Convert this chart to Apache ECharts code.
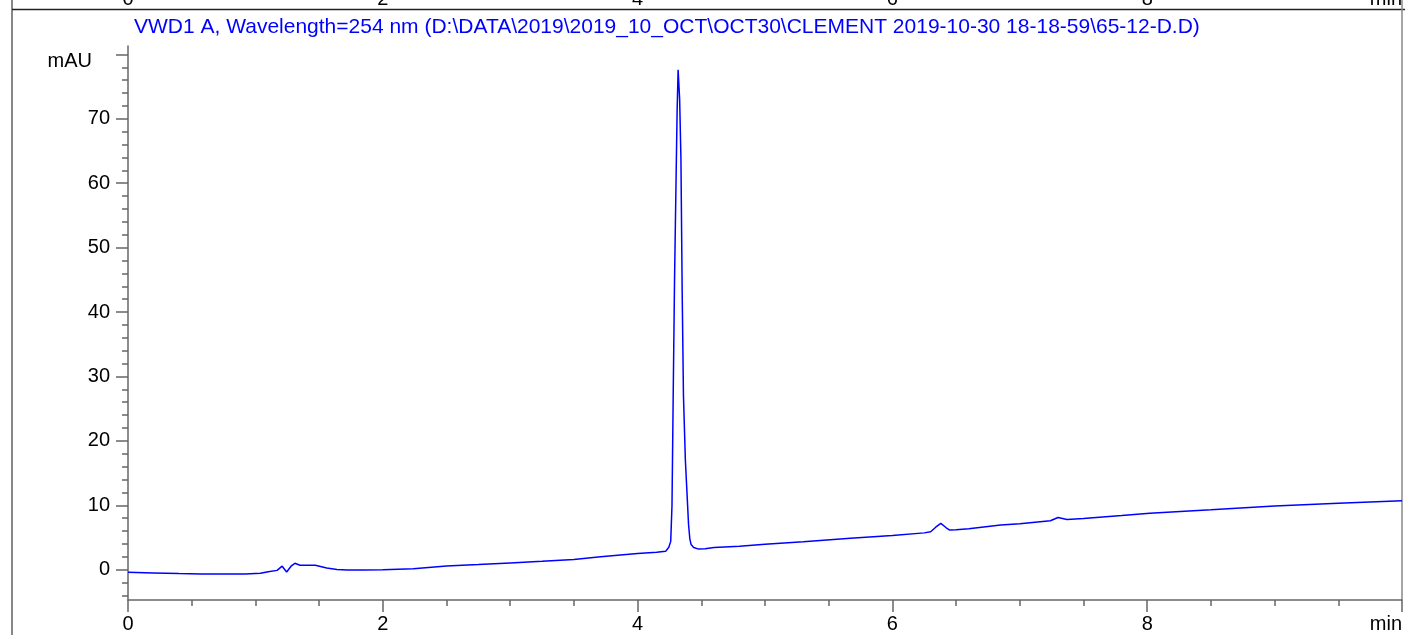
<!DOCTYPE html>
<html>
<head>
<meta charset="utf-8">
<script src="https://cdn.jsdelivr.net/npm/echarts@6/dist/echarts.min.js"></script>
<style>html,body{margin:0;padding:0;background:#fff;}#c{width:1405px;height:635px;}</style>
</head>
<body>
<div id="c"></div>
<script>
// ---- data ----
const titleText = 'VWD1 A, Wavelength=254 nm (D:\\DATA\\2019\\2019_10_OCT\\OCT30\\CLEMENT 2019-10-30 18-18-59\\65-12-D.D)';
const times = [0.00,0.20,0.40,0.57,0.75,0.92,1.04,1.10,1.17,1.21,1.245,1.28,1.31,1.35,1.47,1.56,1.64,1.72,1.85,2.00,2.24,2.50,2.75,3.00,3.25,3.50,3.71,4.00,4.15,4.22,4.245,4.26,4.27,4.28,4.29,4.30,4.31,4.318,4.33,4.34,4.35,4.36,4.375,4.39,4.40,4.41,4.42,4.44,4.48,4.53,4.60,4.80,5.00,5.30,5.67,6.00,6.25,6.30,6.34,6.38,6.42,6.45,6.50,6.60,6.85,7.00,7.24,7.30,7.37,7.50,7.80,8.02,8.50,9.00,9.50,10.00];
const absorbance = [-0.40,-0.50,-0.60,-0.67,-0.68,-0.67,-0.56,-0.30,-0.10,0.55,-0.36,0.55,1.00,0.70,0.68,0.26,0.05,-0.05,-0.05,0.00,0.16,0.57,0.80,1.05,1.30,1.60,2.00,2.50,2.70,2.85,3.50,4.40,10.0,28.0,45.0,58.0,71.0,77.6,73.0,64.0,43.0,27.0,17.0,11.0,7.0,4.8,3.9,3.45,3.2,3.25,3.45,3.65,3.95,4.35,4.87,5.30,5.72,5.90,6.60,7.20,6.55,6.15,6.20,6.35,6.94,7.15,7.60,8.10,7.80,7.95,8.40,8.75,9.30,9.90,10.30,10.70];
const xTickValues = [0,2,4,6,8,10];
const xTickLabels = ['0','2','4','6','8','min'];
const yTickValues = [0,10,20,30,40,50,60,70,80];
const yTickLabels = ['0','10','20','30','40','50','60','70','mAU'];
const yMinorTicks = [-4,-2,2,4,6,8,12,14,16,18,22,24,26,28,32,34,36,38,42,44,46,48,52,54,56,58,62,64,66,68,72,74,76,78];

const FONT = 'Liberation Sans, Arial, sans-serif';
const data = times.map((t,i)=>[t, absorbance[i]]);
const xFmt = v => { const i = xTickValues.indexOf(v); return i >= 0 ? xTickLabels[i] : ''; };
const yFmt = v => { const i = yTickValues.indexOf(v); if (i < 0) return ''; const s = yTickLabels[i]; return isNaN(+s) ? '{u|' + s + '}' : s; };

const axisColor = '#666';
const LBL = 20;
const xAxisBase = (gi, showLine) => ({
  type:'value', gridIndex:gi, min:0, max:10, interval:2,
  axisLine:{show:showLine, onZero:false, lineStyle:{color:axisColor, width:1.5}},
  axisTick:{show:showLine, length:12, lineStyle:{color:axisColor, width:1.5}},
  minorTick:{show:showLine, splitNumber:4, length:6, lineStyle:{color:axisColor, width:1.5}},
  splitLine:{show:false}, minorSplitLine:{show:false},
  axisLabel:{formatter:xFmt, fontSize:LBL, color:'#000', margin:14, fontFamily:FONT, alignMaxLabel:'right', showMinLabel:true, showMaxLabel:true}
});

const chart = echarts.init(document.getElementById('c'), null, {renderer:'canvas'});
chart.setOption({
  animation:false,
  backgroundColor:'#fff',
  title:{text:titleText, left:129, top:12, textStyle:{color:'#0000ff', fontSize:21, fontWeight:'normal', fontFamily:FONT}},
  grid:[{left:128, right:3, top:46, bottom:35}, {left:128, right:3, top:-66, height:33.5}],
  xAxis:[xAxisBase(0,true), xAxisBase(1,false)],
  yAxis:[
    {type:'value', gridIndex:0, position:'left', min:-4.7, max:81.3,
     axisLine:{show:true, onZero:false, lineStyle:{color:axisColor, width:1.5}},
     axisTick:{show:true, length:12, customValues:yTickValues, lineStyle:{color:axisColor, width:1.5}},
     axisLabel:{customValues:yTickValues, formatter:yFmt, fontSize:LBL, color:'#000', margin:18, fontFamily:FONT,
       rich:{u:{fontSize:LBL, color:'#000', fontFamily:FONT, padding:[14,18,0,0]}}},
     splitLine:{show:false}},
    {type:'value', gridIndex:0, position:'left', offset:0, min:-4.7, max:81.3,
     axisLine:{show:false, onZero:false},
     axisTick:{show:true, length:6, customValues:yMinorTicks, lineStyle:{color:axisColor, width:1.5}},
     axisLabel:{show:false}, splitLine:{show:false}},
    {type:'value', gridIndex:1, show:false}
  ],
  series:[{type:'line', xAxisIndex:0, yAxisIndex:0, data:data, showSymbol:false, symbol:'none',
    lineStyle:{color:'#0000ff', width:1.5}, clip:true}],
  graphic:[
    {type:'line', shape:{x1:12, y1:0, x2:12, y2:635}, style:{stroke:'#888', lineWidth:2}},
    {type:'line', shape:{x1:12, y1:9.5, x2:1405, y2:9.5}, style:{stroke:'#222', lineWidth:1.5}},
    {type:'line', shape:{x1:1402, y1:0, x2:1402, y2:600}, style:{stroke:'#888', lineWidth:1.5}}
  ]
});
</script>
</body>
</html>
